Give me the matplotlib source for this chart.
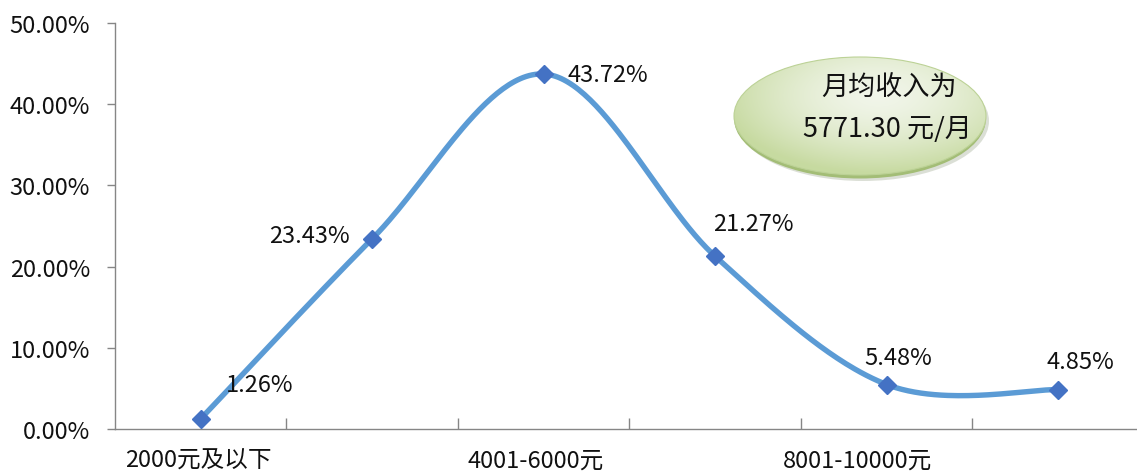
import numpy as np
import matplotlib
matplotlib.use("Agg")
import matplotlib.pyplot as plt
from matplotlib.patches import Ellipse
import matplotlib.transforms as mtransforms

plt.rcParams['font.family'] = ['Noto Sans CJK SC', 'DejaVu Sans']

categories = ["2000元及以下", "2001-4000元", "4001-6000元", "6001-8000元", "8001-10000元", "10000元以上"]
values = [1.26, 23.43, 43.72, 21.27, 5.48, 4.85]
value_labels = ["1.26%", "23.43%", "43.72%", "21.27%", "5.48%", "4.85%"]
shown_label_idx = [0, 2, 4]
y_ticks = [0, 10, 20, 30, 40, 50]
y_tick_labels = ["0.00%", "10.00%", "20.00%", "30.00%", "40.00%", "50.00%"]
note_lines = ["月均收入为", "5771.30 元/月"]

# label offsets in pixels (style)
label_offsets = [(59, 34), (-63, 3), (64, -1), (38, 33), (12, 27), (22, 28)]
cat_label_shift = [-2, -8, -29]

LINE = "#5B9BD5"
MARK = "#4472C4"
AXC = "#868686"
TXT = "#111111"

W, H = 1137, 477
fig = plt.figure(figsize=(W / 100, H / 100), dpi=100)
ax = fig.add_axes([115 / W, (477 - 430) / H, (W - 115) / W, (430 - 24) / H])

n = len(values)
x = np.arange(n, dtype=float)
y = np.array(values, dtype=float)

# Excel-like smoothed line (Catmull-Rom Bezier)
px = np.concatenate([[x[0]], x, [x[-1]]])
py = np.concatenate([[y[0]], y, [y[-1]]])
t = np.linspace(0, 1, 60)[:, None]
cx, cy = [], []
for i in range(n - 1):
    p0 = np.array([px[i], py[i]])
    p1 = np.array([px[i + 1], py[i + 1]])
    p2 = np.array([px[i + 2], py[i + 2]])
    p3 = np.array([px[i + 3], py[i + 3]])
    c1 = p1 + (p2 - p0) / 6
    c2 = p2 - (p3 - p1) / 6
    b = ((1 - t) ** 3) * p1 + 3 * ((1 - t) ** 2) * t * c1 + 3 * (1 - t) * t ** 2 * c2 + t ** 3 * p2
    cx.extend(b[:, 0]); cy.extend(b[:, 1])
ax.plot(cx, cy, color=LINE, lw=3.9, solid_capstyle='round', zorder=2, clip_on=False)
ax.plot(x, y, linestyle='none', marker='D', markersize=9, color=MARK, zorder=3, clip_on=False)

for xi, yi, lab, off in zip(x, y, value_labels, label_offsets):
    ax.annotate(lab, (xi, yi), xytext=off, textcoords='offset pixels',
                ha='center', va='center', fontsize=17, color=TXT, zorder=4)

ax.set_xlim(-0.5, 5.46)
ax.set_ylim(0, 50)
ax.set_yticks(y_ticks)
ax.set_yticklabels(y_tick_labels, fontsize=17, color=TXT)
ax.tick_params(axis='y', direction='out', length=6, width=1, color=AXC, pad=12)

ax.set_xticks(np.arange(0.5, n - 0.5, 1.0))
ax.set_xticklabels([])
ax.tick_params(axis='x', direction='in', length=8, width=1, color=AXC)
ax.set_xticks([x[i] for i in shown_label_idx], minor=True)
ax.set_xticklabels([categories[i] for i in shown_label_idx], minor=True, fontsize=17, color=TXT)
ax.tick_params(axis='x', which='minor', length=0, pad=14)
for lab, s in zip(ax.get_xticklabels(minor=True), cat_label_shift):
    lab.set_transform(lab.get_transform() + mtransforms.ScaledTranslation(s / 100, 0, fig.dpi_scale_trans))

for side in ['top', 'right']:
    ax.spines[side].set_visible(False)
for side in ['left', 'bottom']:
    ax.spines[side].set_color(AXC)
    ax.spines[side].set_linewidth(1)

# Ellipse note
ex0, ey0, ew, eh = 725, 48, 275, 145
eax = fig.add_axes([ex0 / W, (H - ey0 - eh) / H, ew / W, eh / H])
eax.set_xlim(ex0, ex0 + ew)
eax.set_ylim(ey0 + eh, ey0)
eax.axis('off')
cxp, cyp, rw, rh = 860, 117, 252, 120
shadow = Ellipse((cxp + 3, cyp + 5), rw, rh, facecolor='#9aa58a', edgecolor='none', alpha=0.35)
eax.add_patch(shadow)
base = Ellipse((cxp, cyp + 2.5), rw, rh, facecolor='#a3bd76', edgecolor='none')
eax.add_patch(base)
ell = Ellipse((cxp, cyp), rw, rh - 2, facecolor='none', edgecolor='#bcd296', lw=0.8)
gy, gx = np.mgrid[-1:1:240j, -1:1:240j]
r = np.sqrt(((gx - 0.15) / 1.25) ** 2 + ((gy + 0.35) / 1.3) ** 2)
g = np.clip(r, 0, 1) ** 1.6
c_in = np.array([0.945, 0.962, 0.915])
c_out = np.array([0.78, 0.855, 0.63])
img = c_in[None, None, :] * (1 - g[..., None]) + c_out[None, None, :] * g[..., None]
im = eax.imshow(img, extent=[cxp - rw / 2, cxp + rw / 2, cyp + rh / 2, cyp - rh / 2], zorder=2, interpolation='bilinear')
eax.add_patch(ell)
ell.set_zorder(3)
im.set_clip_path(Ellipse((cxp, cyp), rw, rh - 2, transform=eax.transData))
eax.set_xlim(ex0, ex0 + ew)
eax.set_ylim(ey0 + eh, ey0)
eax.text(889, 88, note_lines[0], ha='center', va='center', fontsize=19.5, color=TXT, zorder=4)
eax.text(887, 130, note_lines[1], ha='center', va='center', fontsize=19.5, color=TXT, zorder=4)

fig.savefig("out.png", dpi=100)
